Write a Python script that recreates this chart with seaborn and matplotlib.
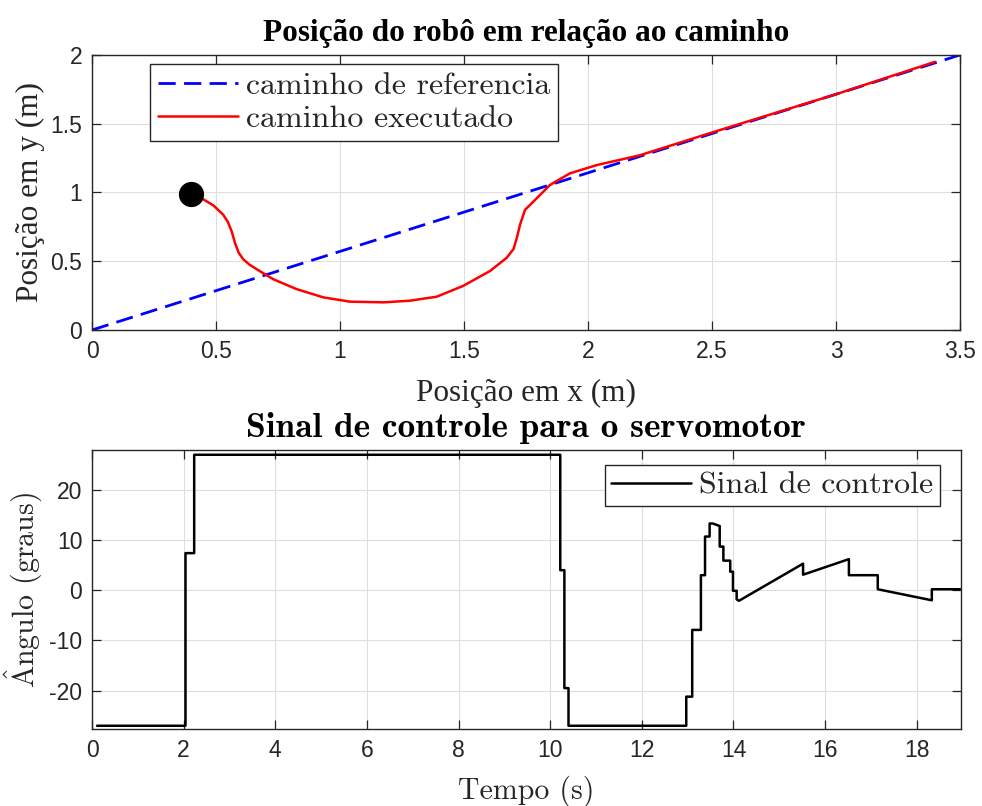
import matplotlib
matplotlib.use("Agg")
import matplotlib.pyplot as plt
import pandas as pd
import seaborn as sns
from matplotlib.ticker import FuncFormatter

# caminho de referencia (reta) e caminho executado pelo robo
ref_x = [0.0, 3.5]
ref_y = [0.0, 2.0]
path_x = [0.400, 0.449, 0.490, 0.529, 0.548, 0.563, 0.577, 0.592, 0.610, 0.635,
          0.664, 0.731, 0.825, 0.933, 1.040, 1.175, 1.282, 1.390, 1.497, 1.605,
          1.672, 1.700, 1.713, 1.726, 1.746, 1.780, 1.847, 1.927, 2.035, 2.210,
          2.505, 3.003, 3.399]
path_y = [0.987, 0.950, 0.905, 0.838, 0.785, 0.718, 0.630, 0.560, 0.514, 0.475,
          0.442, 0.369, 0.297, 0.237, 0.206, 0.201, 0.213, 0.242, 0.321, 0.429,
          0.525, 0.590, 0.670, 0.766, 0.874, 0.934, 1.055, 1.139, 1.199, 1.271,
          1.439, 1.716, 1.950]
start_x = [0.40]
start_y = [0.99]

# sinal de controle do servomotor (graus)
t_s = [0.11, 2.04, 2.04, 2.23, 2.23, 10.22, 10.22, 10.31, 10.31, 10.40, 10.40,
       12.97, 12.97, 13.10, 13.10, 13.29, 13.29, 13.38, 13.38, 13.48, 13.48,
       13.55, 13.70, 13.70, 13.78, 13.78, 13.93, 13.93, 13.99, 13.99, 14.07,
       14.07, 14.12, 15.52, 15.52, 16.52, 16.52, 17.15, 17.15, 18.33, 18.33, 18.96]
angle_deg = [-27.0, -27.0, 7.4, 7.4, 27.0, 27.0, 4.0, 4.0, -19.5, -19.5, -27.0,
             -27.0, -21.2, -21.2, -7.9, -7.9, 3.0, 3.0, 10.7, 10.7, 13.3,
             13.3, 12.8, 8.7, 8.7, 5.9, 5.9, 3.7, 3.7, -0.1, -0.1,
             -1.8, -2.1, 5.3, 3.1, 6.2, 3.0, 3.0, 0.2, -2.0, 0.2, 0.2]

sns.set_theme(style="whitegrid", rc={
    "grid.color": "#dedede",
    "grid.linewidth": 0.8,
    "axes.edgecolor": "#262626",
    "axes.linewidth": 1.0,
})
plt.rcParams["font.family"] = ["Liberation Sans", "DejaVu Sans"]
plt.rcParams["axes.unicode_minus"] = False
plt.rcParams["mathtext.fontset"] = "cm"

# LaTeX-like (Computer Modern) and MATLAB 'tex' (Times) text
CM = ["cmr10", "DejaVu Serif"]
CM_BOLD = ["cmb10", "DejaVu Serif"]
TIMES = ["Liberation Serif", "DejaVu Serif"]

path_df = pd.DataFrame({"x": path_x, "y": path_y})
ref_df = pd.DataFrame({"x": ref_x, "y": ref_y})
sig_df = pd.DataFrame({"t": t_s, "ang": angle_deg})


def _style_axes(ax):
    ax.tick_params(direction="in", length=6.5, width=0.9, color="#262626",
                   labelsize=16.5, labelcolor="#262626", pad=7,
                   top=True, right=True, bottom=True, left=True)
    ax.xaxis.set_major_formatter(FuncFormatter(lambda v, _: f"{v:g}"))
    ax.yaxis.set_major_formatter(FuncFormatter(lambda v, _: f"{v:g}"))
    ax.grid(True, color="#dedede", linewidth=0.8)
    for sp in ax.spines.values():
        sp.set_visible(True)
        sp.set_color("#262626")


fig = plt.figure(figsize=(9.82, 8.06), dpi=100)
ax1 = fig.add_axes([0.0937, 0.5906, 0.8839, 0.3412])
ax2 = fig.add_axes([0.0937, 0.0952, 0.8846, 0.3465])

sns.lineplot(data=ref_df, x="x", y="y", ax=ax1, color="#0000ff", linewidth=2.0,
             linestyle=(0, (6.2, 3.0)), sort=False, estimator=None,
             label="caminho de referencia")
sns.lineplot(data=path_df, x="x", y="y", ax=ax1, color="#ff0000", linewidth=1.8,
             sort=False, estimator=None, label="caminho executado")
sns.scatterplot(x=start_x, y=start_y, ax=ax1, color="black", s=330,
                edgecolor="black", linewidth=0, zorder=5)
ax1.set_xlim(0, 3.5)
ax1.set_ylim(0, 2)
ax1.set_xticks([0, 0.5, 1, 1.5, 2, 2.5, 3, 3.5])
ax1.set_yticks([0, 0.5, 1, 1.5, 2])
_style_axes(ax1)
ax1.set_title("Posição do robô em relação ao caminho", family=TIMES, fontweight="bold",
              fontsize=22.5, color="black", pad=10)
ax1.set_xlabel("Posição em x (m)", family=TIMES, fontsize=22.5, color="#262626", labelpad=12)
ax1.set_ylabel("Posição em y (m)", family=TIMES, fontsize=22.5, color="#262626", labelpad=4)
leg1 = ax1.legend(loc="upper left", bbox_to_anchor=(0.067, 0.968), borderaxespad=0,
                  prop={"family": CM, "size": 23}, frameon=True, fancybox=False,
                  framealpha=1, edgecolor="#262626", handlelength=2.5,
                  handletextpad=0.25, borderpad=0.25, labelspacing=0.15)
leg1.get_frame().set_linewidth(1.0)

sns.lineplot(data=sig_df, x="t", y="ang", ax=ax2, color="black", linewidth=1.8,
             sort=False, estimator=None, label="Sinal de controle")
ax2.set_xlim(0, 18.96)
ax2.set_ylim(-27.7, 27.95)
ax2.set_xticks(range(0, 19, 2))
ax2.set_yticks([-20, -10, 0, 10, 20])
_style_axes(ax2)
ax2.set_title("Sinal de controle para o servomotor", family=CM_BOLD, fontsize=25.5,
              color="black", pad=9)
ax2.set_xlabel("Tempo (s)", family=CM, fontsize=21.5, color="#262626", labelpad=10)
ax2.set_ylabel(r"$\hat{\mathrm{A}}$ngulo (graus)", family=CM, fontsize=21.5,
               color="#262626", labelpad=4)
leg2 = ax2.legend(loc="upper right", bbox_to_anchor=(0.976, 0.946), borderaxespad=0,
                  prop={"family": CM, "size": 23}, frameon=True, fancybox=False,
                  framealpha=1, edgecolor="#262626", handlelength=2.5,
                  handletextpad=0.25, borderpad=0.2)
leg2.get_frame().set_linewidth(1.0)

fig.savefig("out.png", dpi=100)
plt.close(fig)
